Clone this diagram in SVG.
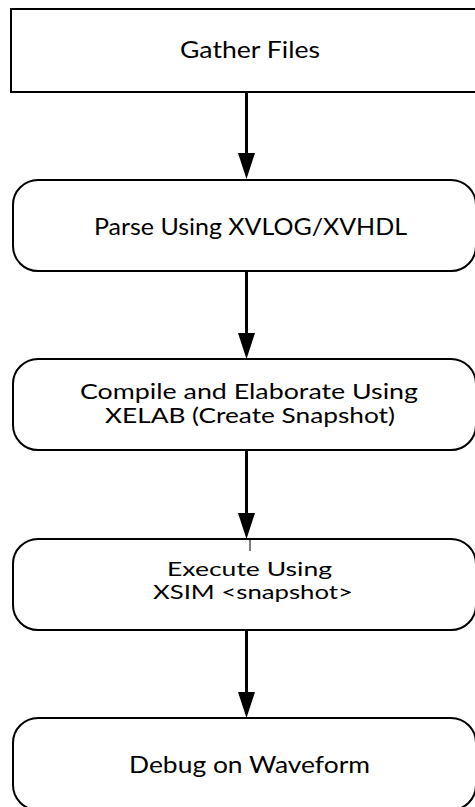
<svg xmlns="http://www.w3.org/2000/svg" width="475" height="807" viewBox="0 0 475 807">
<style>
.box{fill:#fff;stroke:#000;stroke-width:2}
.lbl{font-family:Lato,"Open Sans","Liberation Sans",sans-serif;font-size:24px;fill:#000;text-anchor:middle}
.sm{font-size:21px}
.xs{font-size:20px}
.edge{stroke:#000;stroke-width:3;fill:none}
.head{fill:#000;stroke:none}
</style>
<rect width="475" height="807" fill="#fff"/>
<g id="connectors">
<line class="edge" x1="246.5" y1="92" x2="246.5" y2="160"/>
<polygon class="head" points="238,153 255,153 246.5,179"/>
<line class="edge" x1="246.5" y1="271" x2="246.5" y2="340"/>
<polygon class="head" points="238,333 255,333 246.5,359"/>
<line class="edge" x1="246.5" y1="450" x2="246.5" y2="520"/>
<polygon class="head" points="238,513 255,513 246.5,539"/>
<line class="edge" x1="246.5" y1="630" x2="246.5" y2="699"/>
<polygon class="head" points="238,692 255,692 246.5,718"/>
</g>
<g id="gather">
<rect class="box" x="11" y="9" width="470" height="83"/>
<text class="lbl" x="250" y="58" textLength="140" lengthAdjust="spacingAndGlyphs">Gather Files</text>
</g>
<g id="parse">
<rect class="box" x="13" y="180" width="463" height="91" rx="25" ry="25"/>
<text class="lbl" x="250.5" y="235" textLength="313" lengthAdjust="spacingAndGlyphs">Parse Using XVLOG/XVHDL</text>
</g>
<g id="compile">
<rect class="box" x="13" y="359" width="463" height="91" rx="25" ry="25"/>
<text class="lbl sm" x="249" y="399" textLength="338" lengthAdjust="spacingAndGlyphs">Compile and Elaborate Using</text>
<text class="lbl sm" x="250" y="423" textLength="290" lengthAdjust="spacingAndGlyphs">XELAB (Create Snapshot)</text>
</g>
<g id="execute">
<rect class="box" x="13" y="539" width="463" height="91" rx="25" ry="25"/>
<line x1="250" y1="539" x2="250" y2="551" stroke="#000" stroke-width="1"/>
<text class="lbl xs" x="249.5" y="576" textLength="165" lengthAdjust="spacingAndGlyphs">Execute Using</text>
<text class="lbl xs" x="253" y="599" textLength="200" lengthAdjust="spacingAndGlyphs">XSIM &lt;snapshot&gt;</text>
</g>
<g id="debug">
<rect class="box" x="13" y="718" width="463" height="92" rx="25" ry="25"/>
<text class="lbl" x="249.5" y="773" textLength="241" lengthAdjust="spacingAndGlyphs">Debug on Waveform</text>
</g>
</svg>
